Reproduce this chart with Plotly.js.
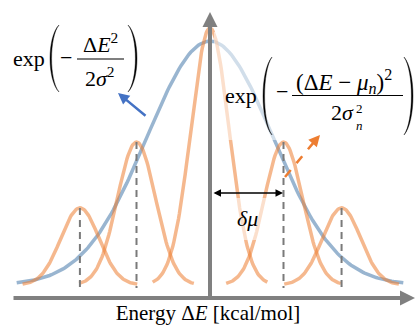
<!DOCTYPE html>
<html><head><meta charset="utf-8">
<script src="https://cdn.plot.ly/plotly-3.0.1.min.js"></script>
<style>html,body{margin:0;padding:0;background:#fff}#chart{width:416px;height:325px}</style>
</head><body><div id="chart"></div>
<script>
// Gaussian components (energy in units of δμ)
const componentMeans = [-1.77, -1, 0, 1, 1.79];
const componentHeights = [0.30, 0.556, 1.0, 0.556, 0.30];
const componentSigma = 0.26;
const componentHalfSpan = 0.78;
const envelopeMean = 0;
const envelopeHeight = 0.949;
const envelopeSigma = 0.857;
const envelopeHalfSpan = 2.63;
const xTitle = 'Energy Δ<i>E</i> [kcal/mol]';
const deltaLabel = '<i>δμ</i>';

function gauss(mu, h, s, half, n) {
  const xs = [], ys = [];
  for (let i = 0; i <= n; i++) {
    const x = mu - half + 2 * half * i / n;
    xs.push(x);
    ys.push(h * Math.exp(-(x - mu) * (x - mu) / (2 * s * s)));
  }
  return {xs, ys};
}

// pixel helpers for decorations (plot area: 416 x 298)
const PXU = 73.5, PYU = 257;
const fx = px => (px - 210) / PXU;
const fy = py => (285 - py) / PYU;

const ORANGE = 'rgba(237,125,49,0.55)';
const BLUE = 'rgba(70,120,170,0.55)';
const traces = [];
const env = gauss(envelopeMean, envelopeHeight, envelopeSigma, envelopeHalfSpan, 200);
traces.push({x: env.xs, y: env.ys, mode: 'lines', line: {color: BLUE, width: 3.5}, hoverinfo: 'skip'});
componentMeans.forEach((m, i) => {
  const g = gauss(m, componentHeights[i], componentSigma, componentHalfSpan, 120);
  traces.push({x: g.xs, y: g.ys, mode: 'lines', line: {color: ORANGE, width: 3.5}, hoverinfo: 'skip'});
});
componentMeans.forEach((m, i) => {
  if (m === 0) return;
  traces.push({x: [m, m], y: [componentHeights[i], -0.012], mode: 'lines',
    line: {color: '#7a7a7a', width: 2, dash: '7px,5px'}, hoverinfo: 'skip'});
});

function paren(xo, xi, yt, yb, th) {
  const H = yb - yt;
  const c1 = (xo - 0.25 * xi) / 0.75;
  const xo2 = xo + th;
  const c2 = (xo2 - 0.25 * xi) / 0.75;
  const ya = yt + 0.18 * H, yc = yb - 0.18 * H;
  return `M ${fx(xi)},${fy(yt)} C ${fx(c1)},${fy(ya)} ${fx(c1)},${fy(yc)} ${fx(xi)},${fy(yb)} ` +
         `C ${fx(c2)},${fy(yc)} ${fx(c2)},${fy(ya)} ${fx(xi)},${fy(yt)} Z`;
}
const shapes = [
  {type: 'rect', layer: 'above', x0: fx(214), x1: fx(416), y0: fy(140), y1: fy(32), fillcolor: 'rgba(255,255,255,0.55)', line: {width: 0}},
  {type: 'rect', layer: 'above', x0: fx(228), x1: fx(268), y0: fy(240), y1: fy(198), fillcolor: 'rgba(255,255,255,0.55)', line: {width: 0}},
  {type: 'path', layer: 'above', path: paren(50, 59, 25, 92, 1.6), fillcolor: '#000', line: {color: '#000', width: 0.4}},
  {type: 'path', layer: 'above', path: paren(137, 128, 25, 92, -1.6), fillcolor: '#000', line: {color: '#000', width: 0.4}},
  {type: 'path', layer: 'above', path: paren(263, 272, 57, 135, 1.6), fillcolor: '#000', line: {color: '#000', width: 0.4}},
  {type: 'path', layer: 'above', path: paren(413, 404, 57, 135, -1.6), fillcolor: '#000', line: {color: '#000', width: 0.4}},
  {type: 'line', layer: 'above', x0: fx(77), x1: fx(124), y0: fy(59), y1: fy(59), line: {color: '#000', width: 1.2}},
  {type: 'line', layer: 'above', x0: fx(292), x1: fx(403), y0: fy(95.5), y1: fy(95.5), line: {color: '#000', width: 1.2}},
  {type: 'line', layer: 'above', x0: fx(285), x1: fx(314), y0: fy(177), y1: fy(142), line: {color: '#ED7D31', width: 2.5, dash: 'dash'}}
];

const SERIF = 'Liberation Serif, Times New Roman, serif';
function txt(text, px, py, size, extra) {
  return Object.assign({text: text, x: fx(px), y: fy(py), xref: 'x', yref: 'y', showarrow: false,
    xanchor: 'center', yanchor: 'middle', font: {family: SERIF, size: size, color: '#000'}}, extra || {});
}
function arrow(tipX, tipY, tailX, tailY, color, width, head, size, extra) {
  return Object.assign({text: '', x: fx(tipX), y: fy(tipY), ax: fx(tailX), ay: fy(tailY), axref: 'x', ayref: 'y',
    xref: 'x', yref: 'y', showarrow: true, arrowhead: head, arrowsize: size, arrowwidth: width, arrowcolor: color, standoff: 0, startstandoff: 0}, extra || {});
}
const annotations = [
  arrow(210, 12, 210, 298, '#808080', 4, 2, 0.75),
  arrow(415, 298, 12, 298, '#808080', 4, 2, 0.75),
  arrow(283, 193, 212, 193, '#000', 1.5, 2, 1, {arrowside: 'end+start'}),
  arrow(118, 93, 147, 117, '#4472C4', 2.5, 2, 0.9),
  arrow(320, 135, 313, 143, '#ED7D31', 2.5, 2, 0.9),
  txt('exp', 29, 58, 22),
  txt('−', 66, 57, 22),
  txt('Δ<i>E</i><sup>2</sup>', 100, 43, 22),
  txt('2<i>σ</i><sup>2</sup>', 100, 77, 22),
  txt('exp', 241, 95, 22),
  txt('−', 282, 91, 22),
  txt('(Δ<i>E</i> − <i>μ</i><sub><i>n</i></sub>)<sup>2</sup>', 344, 81, 23),
  txt('2<i>σ</i>', 342, 112, 22),
  txt('2', 359, 108, 13),
  txt('<i>n</i>', 359, 125, 13),
  txt(deltaLabel, 247, 218, 22)
];

const layout = {
  width: 416, height: 325,
  margin: {l: 0, r: 0, t: 0, b: 27, pad: 0},
  paper_bgcolor: '#fff', plot_bgcolor: '#fff',
  showlegend: false,
  xaxis: {range: [-210 / PXU, 206 / PXU], showgrid: false, zeroline: false, showline: false,
    showticklabels: false, ticks: '', fixedrange: true,
    title: {text: xTitle, font: {family: SERIF, size: 21, color: '#000'}, standoff: 9}},
  yaxis: {range: [-13 / PYU, 285 / PYU], showgrid: false, zeroline: false, showline: false,
    showticklabels: false, ticks: '', fixedrange: true},
  shapes: shapes,
  annotations: annotations
};
Plotly.newPlot('chart', traces, layout, {displayModeBar: false, staticPlot: true});
</script></body></html>
